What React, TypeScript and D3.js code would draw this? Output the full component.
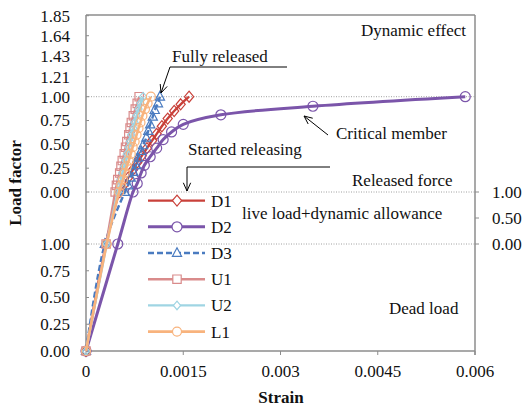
import React from 'react';
import * as d3 from 'd3';

const W = 524;
const H = 409;

// Tick values for the three stacked load stages and the strain axis
const deadTicks = [0, 0.25, 0.5, 0.75, 1.0];
const liveTicks = [0, 0.5, 1.0];
const dynamicTicks = [0, 0.25, 0.5, 0.75, 1.0, 1.21, 1.43, 1.64, 1.85];
const strainTicks = [0, 0.0015, 0.003, 0.0045, 0.006];
const strainTickLabels = ['0', '0.0015', '0.003', '0.0045', '0.006'];

// Members
const seriesNames = ['D1', 'D2', 'D3', 'U1', 'U2', 'L1'];

// Strain at full dead load (load factor 1.00)
const deadStrain = [0.00031, 0.00049, 0.00029, 0.00031, 0.00032, 0.00032];

// Dynamic stage: first point is the end of the live load + dynamic allowance stage
const d1Strain = [0.00052, 0.00059, 0.00065, 0.00072, 0.00079, 0.00086, 0.00094, 0.00102, 0.00109, 0.00117, 0.00126, 0.00136, 0.00146, 0.00159];
const d1Load = [0, 0.08, 0.15, 0.23, 0.31, 0.38, 0.46, 0.54, 0.61, 0.69, 0.77, 0.85, 0.92, 1.0];

const d2Strain = [0.000725, 0.00079, 0.00085, 0.0009, 0.00099, 0.00109, 0.00119, 0.00132, 0.0015, 0.00208, 0.0035, 0.00585];
const d2Load = [0, 0.09, 0.2, 0.28, 0.37, 0.46, 0.55, 0.63, 0.71, 0.81, 0.9, 1.0];

const d3Strain = [0.0006, 0.00065, 0.00069, 0.00073, 0.00077, 0.0008, 0.00085, 0.00088, 0.00093, 0.00096, 0.00099, 0.00103, 0.00106, 0.00111, 0.00114];
const d3Load = [0, 0.07, 0.15, 0.21, 0.28, 0.36, 0.43, 0.49, 0.57, 0.64, 0.71, 0.79, 0.86, 0.93, 1.0];

const u1Strain = [0.00045, 0.00047, 0.00049, 0.00052, 0.00054, 0.00056, 0.00059, 0.00061, 0.00063, 0.00066, 0.00068, 0.0007, 0.00073, 0.00076, 0.00079, 0.00082];
const u1Load = [0, 0.07, 0.13, 0.2, 0.27, 0.33, 0.4, 0.47, 0.53, 0.6, 0.67, 0.73, 0.8, 0.87, 0.93, 1.0];

const u2Strain = [0.00049, 0.00052, 0.00054, 0.00056, 0.00059, 0.00061, 0.00063, 0.00066, 0.00068, 0.0007, 0.00073, 0.00075, 0.00078, 0.00081, 0.00084, 0.00088];
const u2Load = [0, 0.07, 0.13, 0.2, 0.27, 0.33, 0.4, 0.47, 0.53, 0.6, 0.67, 0.73, 0.8, 0.87, 0.93, 1.0];

const l1Strain = [0.00051, 0.00054, 0.00057, 0.0006, 0.00063, 0.00066, 0.00069, 0.00072, 0.00075, 0.00078, 0.00081, 0.00084, 0.00087, 0.00091, 0.00095, 0.001];
const l1Load = [0, 0.07, 0.13, 0.2, 0.27, 0.33, 0.4, 0.47, 0.53, 0.6, 0.67, 0.73, 0.8, 0.87, 0.93, 1.0];

const dynStrain = [d1Strain, d2Strain, d3Strain, u1Strain, u2Strain, l1Strain];
const dynLoad = [d1Load, d2Load, d3Load, u1Load, u2Load, l1Load];

type Shape = 'diamond' | 'circle' | 'triangle' | 'square';
const styles: { color: string; shape: Shape; r: number; width: number; dash?: string }[] = [
  { color: '#c9413a', shape: 'diamond', r: 4.6, width: 2.4 },
  { color: '#7b55aa', shape: 'circle', r: 5, width: 3 },
  { color: '#4a7bc0', shape: 'triangle', r: 4.6, width: 2.4, dash: '6,3' },
  { color: '#d98b8b', shape: 'square', r: 4.2, width: 2.4 },
  { color: '#9fd5e3', shape: 'diamond', r: 3.6, width: 2.4 },
  { color: '#f8b37d', shape: 'circle', r: 4.5, width: 2.6 },
];

const FONT = "'Liberation Serif', 'DejaVu Serif', serif";

const margin = { left: 86, right: 475, top: 15, bottom: 351 };

const x = d3.scaleLinear().domain([0, 0.006]).range([margin.left, margin.right]);
// Stacked axis: 0–1 dead load, 1–2 live load + dynamic allowance, 2–3.85 dynamic effect
const y = d3.scaleLinear().domain([0, 1, 2, 3.85]).range([margin.bottom, 244, 192, 15.7]);

function markerPath(shape: Shape, r: number): string {
  switch (shape) {
    case 'circle':
      return `M${r},0A${r},${r} 0 1,1 ${-r},0A${r},${r} 0 1,1 ${r},0Z`;
    case 'square':
      return `M${-r},${-r}H${r}V${r}H${-r}Z`;
    case 'diamond':
      return `M0,${-r * 1.2}L${r},0L0,${r * 1.2}L${-r},0Z`;
    case 'triangle':
      return `M0,${-r * 1.15}L${r},${r * 0.75}L${-r},${r * 0.75}Z`;
  }
}

function arrowHead(tx: number, ty: number, fx: number, fy: number, len = 9, spread = 0.42): string {
  const a = Math.atan2(ty - fy, tx - fx);
  const p1 = [tx - len * Math.cos(a - spread), ty - len * Math.sin(a - spread)];
  const p2 = [tx - len * Math.cos(a + spread), ty - len * Math.sin(a + spread)];
  return `M${p1[0]},${p1[1]}L${tx},${ty}L${p2[0]},${p2[1]}`;
}

export default function App() {
  const line = d3
    .line<[number, number]>()
    .x((d) => x(d[0]))
    .y((d) => y(d[1]))
    .curve(d3.curveCatmullRom.alpha(0.5));

  const series = seriesNames.map((name, i) => {
    const pts: [number, number][] = [
      [0, 0],
      [deadStrain[i], 1],
      ...dynStrain[i].map((s, j) => [s, 2 + dynLoad[i][j]] as [number, number]),
    ];
    return { name, pts, style: styles[i] };
  });

  const gridColor = '#a0a0a0';
  const axisColor = '#8c8c8c';
  const legendY0 = 200.6;
  const legendStep = 26.2;
  const txt = { fontFamily: FONT, fontSize: 17, fill: '#111' } as React.CSSProperties;

  return (
    <div style={{ position: 'absolute', left: 0, top: 0 }}>
      <svg width={W} height={H} style={{ display: 'block', background: '#fff', fontFamily: FONT }}>
        {/* dotted reference lines at stage boundaries and dynamic load factor 1.00 */}
        {[1, 2, 3].map((v) => (
          <line key={v} x1={margin.left} x2={margin.right} y1={y(v)} y2={y(v)} stroke={gridColor} strokeWidth={1} strokeDasharray="1,1.5" />
        ))}

        {/* plot frame */}
        <line x1={margin.left} x2={margin.right} y1={margin.top} y2={margin.top} stroke={axisColor} strokeWidth={1.5} />
        <line x1={margin.right} x2={margin.right} y1={margin.top} y2={margin.bottom + 4} stroke={axisColor} strokeWidth={1.5} />
        <line x1={margin.left} x2={margin.left} y1={margin.top} y2={margin.bottom} stroke={axisColor} strokeWidth={1.5} />
        <line x1={margin.left} x2={margin.right} y1={margin.bottom} y2={margin.bottom} stroke={axisColor} strokeWidth={1.5} />

        {/* left axis: dead load and dynamic effect */}
        {deadTicks.map((t) => (
          <g key={'d' + t}>
            <line x1={margin.left} x2={margin.left + 3} y1={y(t)} y2={y(t)} stroke={axisColor} strokeWidth={1} />
            <text x={70} y={y(t)} dy="0.35em" textAnchor="end" style={txt}>{d3.format('.2f')(t)}</text>
          </g>
        ))}
        {dynamicTicks.map((t) => (
          <g key={'y' + t}>
            <line x1={margin.left} x2={margin.left + 3} y1={y(2 + t)} y2={y(2 + t)} stroke={axisColor} strokeWidth={1} />
            <text x={70} y={y(2 + t)} dy="0.35em" textAnchor="end" style={txt}>{d3.format('.2f')(t)}</text>
          </g>
        ))}

        {/* right axis: live load + dynamic allowance */}
        {liveTicks.map((t) => (
          <g key={'l' + t}>
            <line x1={margin.right} x2={margin.right + 4} y1={y(1 + t)} y2={y(1 + t)} stroke={axisColor} strokeWidth={1} />
            <text x={492} y={y(1 + t)} dy="0.35em" textAnchor="start" style={txt}>{d3.format('.2f')(t)}</text>
          </g>
        ))}

        {/* strain axis */}
        {strainTicks.map((t, i) => (
          <g key={'x' + t}>
            <line x1={x(t)} x2={x(t)} y1={margin.bottom} y2={margin.bottom + 4} stroke={axisColor} strokeWidth={1} />
            <text x={x(t)} y={377} textAnchor="middle" style={txt}>{strainTickLabels[i]}</text>
          </g>
        ))}

        <text x={281} y={403} textAnchor="middle" style={{ ...txt, fontWeight: 'bold' }}>Strain</text>
        <text transform={`translate(21,183) rotate(-90)`} textAnchor="middle" style={{ ...txt, fontWeight: 'bold' }}>Load factor</text>

        {/* member curves */}
        {series.map((s) => (
          <g key={s.name}>
            <path d={line(s.pts) || ''} fill="none" stroke={s.style.color} strokeWidth={s.style.width} strokeDasharray={s.style.dash} />
            {s.pts.map((p, j) => (
              <path
                key={j}
                transform={`translate(${x(p[0])},${y(p[1])})`}
                d={markerPath(s.style.shape, s.style.r)}
                fill="none"
                stroke={s.style.color}
                strokeWidth={1.2}
              />
            ))}
          </g>
        ))}

        {/* legend */}
        {series.map((s, i) => {
          const ly = legendY0 + i * legendStep;
          return (
            <g key={'lg' + s.name}>
              <line x1={148} x2={205} y1={ly} y2={ly} stroke={s.style.color} strokeWidth={s.style.width} strokeDasharray={s.style.dash} />
              <path transform={`translate(177,${ly})`} d={markerPath(s.style.shape, s.style.r)} fill="#fff" stroke={s.style.color} strokeWidth={1.2} />
              <text x={211} y={ly} dy="0.35em" style={txt}>{s.name}</text>
            </g>
          );
        })}

        {/* stage labels */}
        <text x={466} y={36} textAnchor="end" style={txt}>Dynamic effect</text>
        <text x={352} y={186} style={txt}>Released force</text>
        <text x={242} y={219} style={txt}>live load+dynamic allowance</text>
        <text x={389} y={314} style={txt}>Dead load</text>

        {/* annotations */}
        <text x={172} y={62} style={txt}>Fully released</text>
        <path d="M287,67H170L161,93" fill="none" stroke="#000" strokeWidth={1} />
        <path d={arrowHead(161, 93, 170, 67)} fill="none" stroke="#000" strokeWidth={1} />

        <text x={336} y={139} style={txt}>Critical member</text>
        <path d="M328,135L304,116" fill="none" stroke="#000" strokeWidth={1} />
        <path d={arrowHead(304, 116, 328, 135)} fill="none" stroke="#000" strokeWidth={1} />

        <text x={188} y={155} style={txt}>Started releasing</text>
        <path d="M330,167H187V191" fill="none" stroke="#000" strokeWidth={1} />
        <path d={arrowHead(187, 191, 187, 167)} fill="none" stroke="#000" strokeWidth={1} />
      </svg>
    </div>
  );
}
